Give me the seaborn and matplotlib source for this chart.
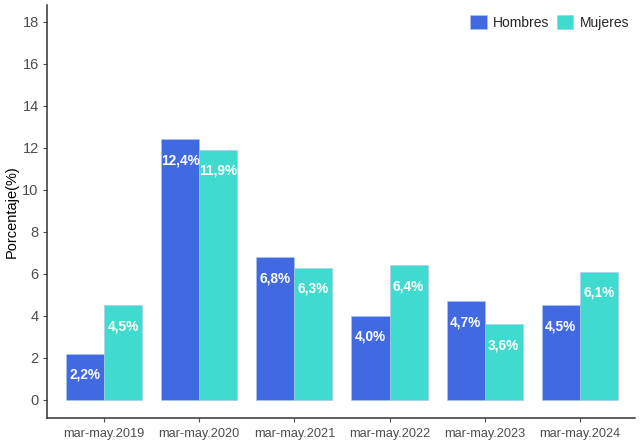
import matplotlib
matplotlib.use("Agg")
import matplotlib.pyplot as plt
import seaborn as sns
import pandas as pd

periodos = ["mar-may.2019", "mar-may.2020", "mar-may.2021",
            "mar-may.2022", "mar-may.2023", "mar-may.2024"]
hombres = [2.2, 12.4, 6.8, 4.0, 4.7, 4.5]
mujeres = [4.5, 11.9, 6.3, 6.4, 3.6, 6.1]
etiquetas_h = ["2,2%", "12,4%", "6,8%", "4,0%", "4,7%", "4,5%"]
etiquetas_m = ["4,5%", "11,9%", "6,3%", "6,4%", "3,6%", "6,1%"]
y_ticks = [0, 2, 4, 6, 8, 10, 12, 14, 16, 18]

df = pd.DataFrame({
    "periodo": periodos * 2,
    "valor": hombres + mujeres,
    "sexo": ["Hombres"] * 6 + ["Mujeres"] * 6,
})

sns.set_style("white")
plt.rcParams["font.family"] = ["Liberation Sans", "DejaVu Sans"]

fig = plt.figure(figsize=(6.42, 4.42), dpi=100)
ax = fig.add_axes([47 / 642, 24 / 442, (635 - 47) / 642, (437 - 24) / 442])

palette = {"Hombres": "#4169E1", "Mujeres": "#40DBCF"}
sns.barplot(data=df, x="periodo", y="valor", hue="sexo", palette=palette,
            width=0.8, ax=ax, saturation=1, edgecolor="#a8c8f0", linewidth=0.4)

for cont, labs in zip(ax.containers, [etiquetas_h, etiquetas_m]):
    for patch, lab in zip(cont.patches, labs):
        ax.text(patch.get_x() + patch.get_width() / 2, patch.get_height() - 1.0, lab,
                ha="center", va="center", color="white", fontweight="bold", fontsize=9.8)

ax.set_ylim(-0.86, 18.8)
ax.set_xlim(-0.6, 5.58)
ax.set_yticks(y_ticks)
ax.set_yticklabels([str(t) for t in y_ticks])
ax.tick_params(axis="both", colors="#4d4d4d", length=3, width=0.8,
               direction="out", left=True, bottom=True)
ax.tick_params(axis="y", labelsize=10.5, pad=3)
ax.tick_params(axis="x", labelsize=9.2, pad=4)
for lab in ax.get_xticklabels() + ax.get_yticklabels():
    lab.set_color("#4d4d4d")
ax.set_xlabel("")
ax.set_ylabel("Porcentaje(%)", fontsize=10.5, color="black")
ax.yaxis.set_label_coords((19 - 47) / 588, 0.5)
for s in ["top", "right"]:
    ax.spines[s].set_visible(False)
for s in ["left", "bottom"]:
    ax.spines[s].set_color("#333333")
    ax.spines[s].set_linewidth(1.1)

leg = ax.legend(title=None, loc="upper right", bbox_to_anchor=(1.002, 0.992), ncol=2,
                frameon=False, fontsize=10, handlelength=1.2, handleheight=1.2,
                columnspacing=0.55, handletextpad=0.45, borderaxespad=0.1)

fig.savefig("out.png", dpi=100)
